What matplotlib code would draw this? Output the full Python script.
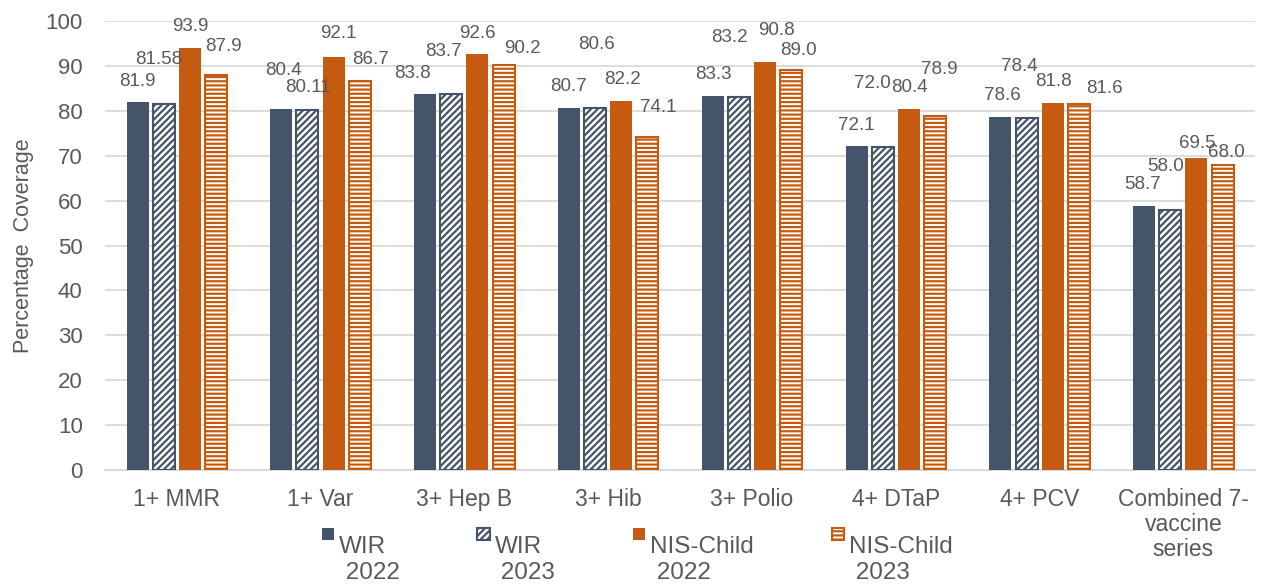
import numpy as np
import matplotlib.pyplot as plt
import matplotlib.patches as mpatches
from matplotlib.container import BarContainer
from matplotlib.legend_handler import HandlerPatch, update_from_first_child

plt.rcParams['font.family'] = ['Liberation Sans', 'DejaVu Sans']
plt.rcParams['hatch.linewidth'] = 1.6

categories = ['1+ MMR', '1+ Var', '3+ Hep B', '3+ Hib', '3+ Polio',
              '4+ DTaP', '4+ PCV', 'Combined 7-\nvaccine\nseries']
wir_2022 = [81.9, 80.4, 83.8, 80.7, 83.3, 72.1, 78.6, 58.7]
wir_2023 = [81.58, 80.11, 83.7, 80.6, 83.2, 72.0, 78.4, 58.0]
nis_2022 = [93.9, 92.1, 92.6, 82.2, 90.8, 80.4, 81.8, 69.5]
nis_2023 = [87.9, 86.7, 90.2, 74.1, 89.0, 78.9, 81.6, 68.0]
wir_2023_fmt = ['{:.2f}', '{:.2f}', '{:.1f}', '{:.1f}', '{:.1f}', '{:.1f}', '{:.1f}', '{:.1f}']

# value label placement: sideways shift from the bar centre (category units)
# and height (data units), set by hand so the labels don't collide
label_dx = [
    [-0.003, 0.014, -0.09, 0.0, 0.007, 0.0, 0.014, -0.014],
    [-0.038, 0.0, -0.056, 0.007, -0.063, -0.07, -0.049, -0.035],
    [0.0, 0.035, 0.0, 0.007, 0.076, 0.007, 0.007, 0.007],
    [0.049, 0.076, 0.132, 0.076, 0.049, 0.028, 0.181, 0.028],
]
label_y = [
    [86.6, 89.1, 88.4, 85.5, 88.0, 76.8, 83.5, 63.5],
    [91.5, 85.1, 93.3, 94.7, 96.4, 86.2, 89.8, 67.5],
    [98.7, 97.3, 97.3, 87.1, 98.0, 85.1, 86.6, 72.8],
    [94.4, 91.5, 93.8, 80.8, 93.5, 89.3, 84.9, 70.8],
]

dark = '#44546A'
orange = '#C55A11'
grey = '#595959'

fig = plt.figure(figsize=(12.62, 5.86), dpi=100)
ax = fig.add_axes([0.0831, 0.198, 0.9116, 0.766])

x = np.arange(len(categories))
w = 0.153
step = 0.182
series = [
    ('WIR\n 2022', wir_2022, dict(color=dark)),
    ('WIR\n 2023', wir_2023, dict(facecolor='white', edgecolor=dark, hatch='/////', linewidth=1.5)),
    ('NIS-Child\n 2022', nis_2022, dict(color=orange)),
    ('NIS-Child\n 2023', nis_2023, dict(facecolor='white', edgecolor=orange, hatch='----', linewidth=1.5)),
]
bars = []
for i, (name, vals, style) in enumerate(series):
    pos = x + (i - 1.5) * step
    bars.append(ax.bar(pos, vals, w, label=name, zorder=3, **style))
    for j, (p, v) in enumerate(zip(pos, vals)):
        txt = wir_2023_fmt[j].format(v) if i == 1 else '{:.1f}'.format(v)
        ax.text(p + label_dx[i][j], label_y[i][j], txt, ha='center', va='center',
                fontsize=13.5, color=grey, zorder=4, clip_on=False)

ax.set_ylim(0, 100)
ax.set_xlim(-0.5, len(categories) - 0.5)
ax.set_yticks(range(0, 101, 10))
ax.set_xticks(x)
ax.set_xticklabels(categories, fontsize=16.5, color=grey, linespacing=1.12)
ax.tick_params(axis='y', labelsize=16, labelcolor=grey, length=0, pad=16)
ax.tick_params(axis='x', length=0, pad=13)
ax.yaxis.grid(True, color='#D9D9D9', linewidth=1.3, zorder=0)
ax.set_axisbelow(True)
for s in ['top', 'right', 'left']:
    ax.spines[s].set_visible(False)
ax.spines['bottom'].set_color('#D9D9D9')
ax.spines['bottom'].set_linewidth(1.3)
ax.set_ylabel('Percentage  Coverage', fontsize=15.5, color=grey, labelpad=8)


# legend swatch sits beside the first line of the two-line label
def top_square(legend, orig_handle, xdescent, ydescent, width, height, fontsize):
    s = 0.5 * fontsize
    yc = 1.42 * fontsize
    return mpatches.Rectangle((-xdescent, yc - s / 2), s, s)


leg = fig.legend(handles=bars, loc='lower left', bbox_to_anchor=(0.255, 0.004),
                 ncol=4, frameon=False, fontsize=17.5, borderpad=0, borderaxespad=0,
                 handlelength=0.5, handletextpad=0.2, columnspacing=3.2,
                 handler_map={BarContainer: HandlerPatch(patch_func=top_square,
                                                         update_func=update_from_first_child)})
for t in leg.get_texts():
    t.set_color(grey)

fig.savefig('out.png', dpi=100)
